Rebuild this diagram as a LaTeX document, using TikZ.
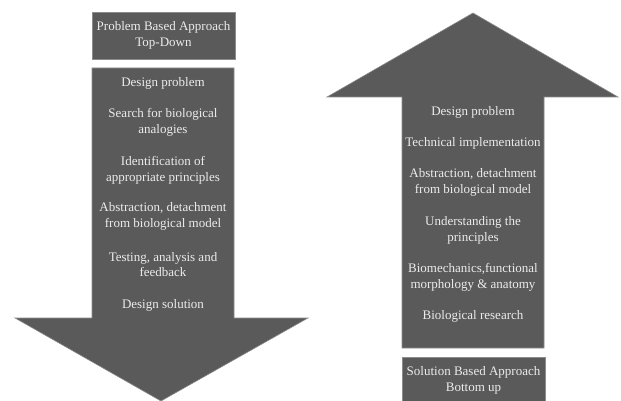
\documentclass[tikz,border=0pt]{standalone}
\usepackage{fontspec}
\setmainfont{Liberation Serif}
\definecolor{boxgray}{HTML}{5A5A5A}
\definecolor{edgegray}{HTML}{8C8C8C}
\definecolor{txtgray}{HTML}{ECECEC}
\begin{document}
\begin{tikzpicture}[x=1pt,y=-1pt,
  darkshape/.style={fill=boxgray,draw=edgegray,line width=0.6pt},
  steptext/.style={text=txtgray,font=\fontsize{13}{15.8}\selectfont,align=center,inner sep=0pt}]
\useasboundingbox (0,0) rectangle (621,401);
% top-down arrow
\draw[darkshape] (92,12) rectangle (235,59);
\node[steptext] (ptitle) at (163.5,35.5) {Problem Based Approach\\Top-Down};
\draw[darkshape] (92,68) -- (234,68) -- (234,318) -- (308,318) -- (161,401)
  -- (15,318) -- (92,318) -- cycle;
\node[steptext] (d1) at (163,83) {Design problem};
\node[steptext] (d2) at (163,122.5) {Search for biological\\analogies};
\node[steptext] (d3) at (163,170) {Identification of\\appropriate principles};
\node[steptext] (d4) at (163,216.5) {Abstraction, detachment\\from biological model};
\node[steptext] (d5) at (163,264.5) {Testing, analysis and\\feedback};
\node[steptext] (d6) at (163,305) {Design solution};
% bottom-up arrow
\draw[darkshape] (402,348) -- (402,97) -- (327,97) -- (473,13) -- (618,97)
  -- (544,97) -- (544,348) -- cycle;
\node[steptext] (u1) at (473,112) {Design problem};
\node[steptext] (u2) at (473,143) {Technical implementation};
\node[steptext] (u3) at (473,182) {Abstraction, detachment\\from biological model};
\node[steptext] (u4) at (473,230) {Understanding the\\principles};
\node[steptext] (u5) at (473,277) {Biomechanics,functional\\morphology \& anatomy};
\node[steptext] (u6) at (473,316) {Biological research};
\draw[darkshape] (402,357) rectangle (545,405);
\node[steptext] (stitle) at (473.5,380.5) {Solution Based Approach\\Bottom up};
\end{tikzpicture}
\end{document}
